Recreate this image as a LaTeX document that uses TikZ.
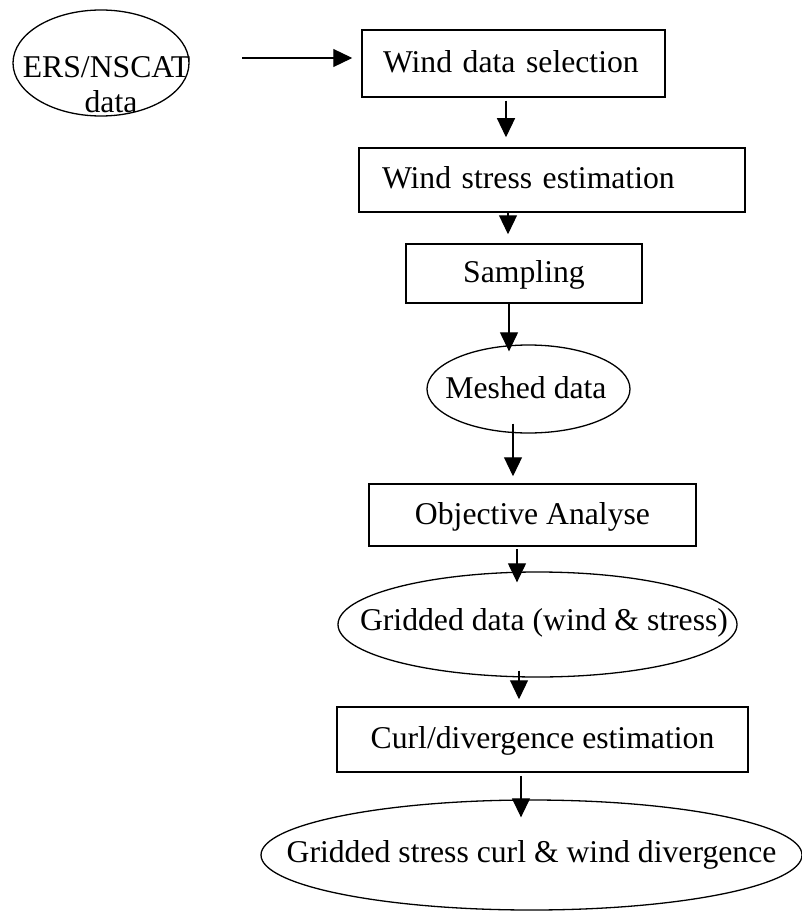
\documentclass[tikz,border=0pt]{standalone}
\usepackage{fontspec}
\setmainfont{Liberation Serif}
\usetikzlibrary{arrows.meta,shapes.geometric,calc}
\begin{document}
\begin{tikzpicture}[x=1pt,y=-1pt,
  txt/.style={font=\fontsize{31.7pt}{36pt}\selectfont, inner sep=0pt},
  boxnode/.style={draw, line width=1.5pt, rectangle, inner ysep=0pt, inner xsep=0pt,
    text height=23pt, text depth=5pt, font=\fontsize{31.7pt}{36pt}\selectfont},
  ellnode/.style={draw, line width=1.3pt, ellipse, inner sep=0pt},
  arr/.style={line width=1.2pt, -{Triangle[length=19pt,width=18pt]}}
]
\useasboundingbox (0,0) rectangle (802,912);

% ellipses (shapes)
\node[ellnode, minimum width=176pt, minimum height=106pt] (ers) at (101,63) {};
\node[ellnode, minimum width=203pt, minimum height=88pt] (mesh) at (528.5,389) {};
\node[ellnode, minimum width=399pt, minimum height=105pt] (grid) at (537.5,624.5) {};
\node[ellnode, minimum width=541pt, minimum height=110pt] (final) at (531.5,855) {};

% ellipse texts
\node[txt, anchor=base] (erst1) at (106.5,78) {ERS/NSCAT};
\node[txt, anchor=base] (erst2) at (111,112.5) {data};
\node[txt, anchor=base] (mesht) at (526,398) {Meshed data};
\node[txt, anchor=base] (gridt) at (544,630) {Gridded data (wind \& stress)};
\node[txt, anchor=base] (finalt) at (531.5,862) {Gridded stress curl \& wind divergence};

% boxes
\node[boxnode, minimum width=303pt, minimum height=67pt, inner xsep=21pt, text width=261pt, align=left] (box1) at (513.5,63.5) {Wind data selection};
\node[boxnode, minimum width=386pt, minimum height=64pt, inner xsep=23pt, text width=340pt, align=left] (box2) at (552,180) {Wind stress estimation};
\node[boxnode, minimum width=236pt, minimum height=59pt] (samp) at (524,273.5) {Sampling};
\node[boxnode, minimum width=327pt, minimum height=62pt] (oa) at (532.5,515) {Objective Analyse};
\node[boxnode, minimum width=411pt, minimum height=65pt] (curl) at (542.5,739.5) {Curl/divergence estimation};

% connectors
\coordinate (a1s) at (242,58);
\draw[arr] (a1s) -- ($(box1.west |- a1s)+(-9,0)$);
\draw[arr] ($(box1.south)+(-7.5,3)$) -- ($(box2.north)+(-46,-10)$);
\draw[arr] ($(box2.south)+(-44,0)$) -- ($(samp.north)+(-16,-9)$);
\draw[arr] ($(samp.south)+(-15,0)$) -- ($(mesh.north)+(-19.5,7)$);
\draw[arr] ($(mesh.south)+(-15.5,-10)$) -- ($(oa.north)+(-19.5,-7)$);
\draw[arr] ($(oa.south)+(-15.5,2)$) -- ($(grid.north)+(-20.5,11)$);
\draw[arr] ($(grid.south)+(-18.5,-7)$) -- ($(curl.north)+(-23.5,-7)$);
\draw[arr] ($(curl.south)+(-21.5,3)$) -- ($(final.north)+(-10.5,18)$);
\end{tikzpicture}
\end{document}
